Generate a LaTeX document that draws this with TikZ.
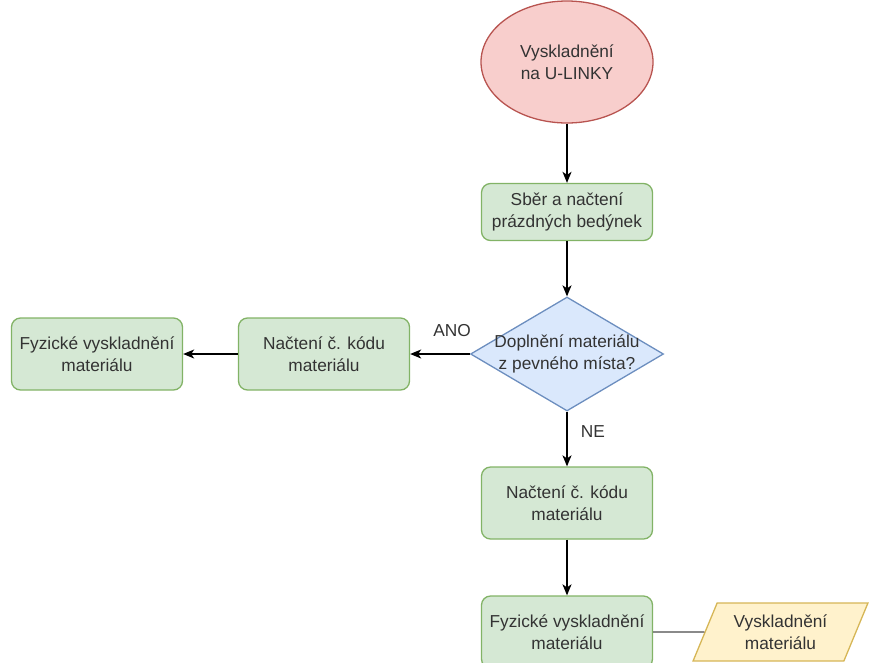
\documentclass[tikz,border=0pt]{standalone}
\usepackage{fontspec}
\setmainfont{Liberation Sans}
\usetikzlibrary{shapes.geometric,arrows.meta}
\definecolor{startfill}{HTML}{F8CECC}
\definecolor{startline}{HTML}{B85450}
\definecolor{procfill}{HTML}{D5E8D4}
\definecolor{procline}{HTML}{82B366}
\definecolor{decfill}{HTML}{DAE8FC}
\definecolor{decline}{HTML}{6C8EBF}
\definecolor{iofill}{HTML}{FFF2CC}
\definecolor{ioline}{HTML}{D6B656}
\definecolor{txtcol}{HTML}{333333}
\begin{document}
\begin{tikzpicture}[x=1pt, y=-1pt,
  every node/.style={font=\fontsize{17.3}{22}\selectfont, text=txtcol, align=center},
  start/.style={ellipse, draw=startline, fill=startfill, line width=1.3pt, minimum width=172pt, minimum height=122pt, inner sep=0pt},
  proc/.style={rectangle, rounded corners=9pt, draw=procline, fill=procfill, line width=1.3pt, minimum width=171pt, minimum height=72pt, inner sep=0pt},
  decision/.style={diamond, draw=decline, fill=decfill, line width=1.3pt, minimum width=193pt, minimum height=114pt, inner sep=0pt},
  iobox/.style={trapezium, trapezium left angle=63, trapezium right angle=117, trapezium stretches=true, draw=ioline, fill=iofill, line width=1.3pt, minimum width=175pt, minimum height=58pt, inner sep=0pt},
  flow/.style={line width=1.4pt, -{Stealth[length=11pt, width=9pt, inset=3pt]}}]
\useasboundingbox (0,0) rectangle (869,662);
\node[start] (start) at (567,62){Vyskladnění\\na U-LINKY};
\node[proc, minimum height=57pt] (sber) at (567,212){Sběr a načtení\\prázdných bedýnek};
\node[decision] (dec) at (567,354){};
\node[] (dectxt) at (dec.center){Doplnění materiálu\\z pevného místa?};
\node[proc] (nacl) at (324,354){Načtení č. kódu\\materiálu};
\node[proc] (fyzl) at (97,354){Fyzické vyskladnění\\materiálu};
\node[proc] (nacd) at (567,503){Načtení č. kódu\\materiálu};
\node[proc] (fyzd) at (567,632){Fyzické vyskladnění\\materiálu};
\node[iobox] (vysk) at (780.5,632){Vyskladnění\\materiálu};
\node[] (ano) at (452,331){ANO};
\node[] (ne) at (593,432){NE};
\draw[flow](start) -- (sber);
\draw[flow](sber) -- (dec);
\draw[flow](dec) -- (nacl);
\draw[flow](nacl) -- (fyzl);
\draw[flow](dec) -- (nacd);
\draw[flow](nacd) -- (fyzd);
\draw[line width=1.4pt, draw=black!70](fyzd) -- (vysk);
\end{tikzpicture}
\end{document}
